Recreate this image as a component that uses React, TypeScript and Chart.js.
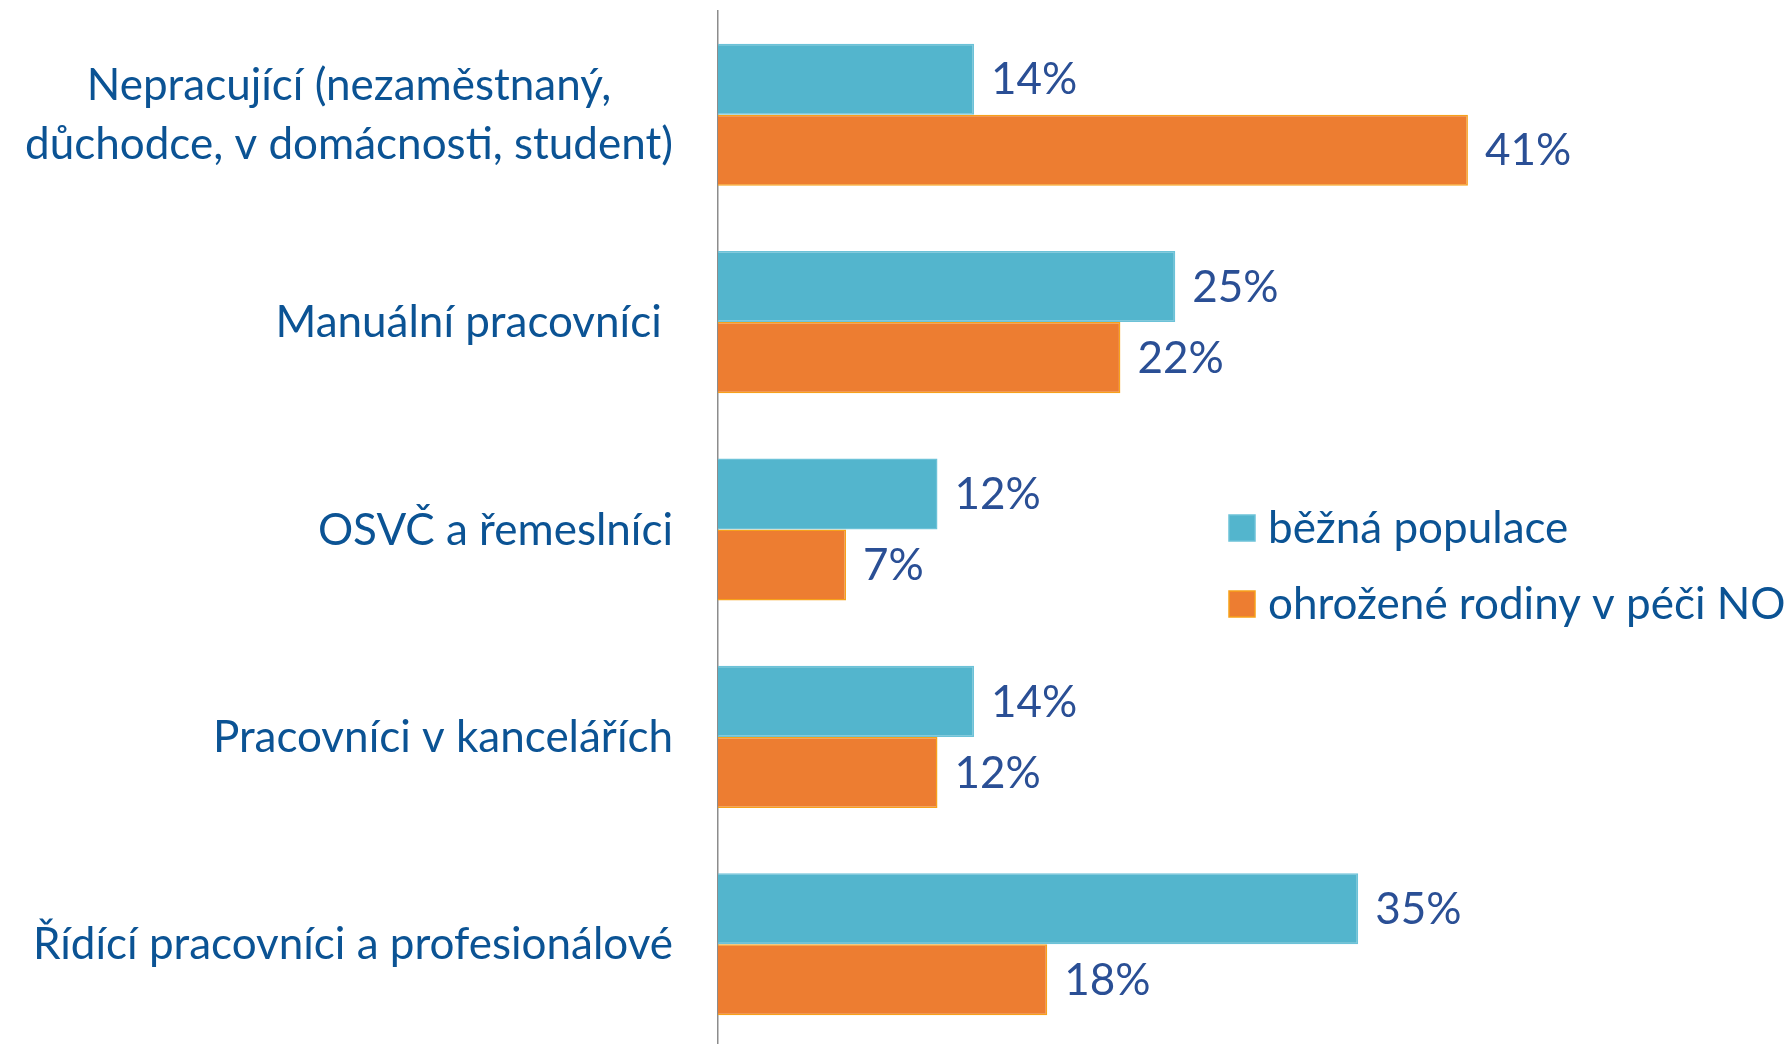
import React, { useEffect, useRef } from "react";
import { Chart, registerables } from "chart.js";

Chart.register(...registerables);

const categories: (string | string[])[] = [
  ["Nepracující (nezaměstnaný,", "důchodce, v domácnosti, student)"],
  "Manuální pracovníci ",
  "OSVČ a řemeslníci",
  "Pracovníci v kancelářích",
  "Řídící pracovníci a profesionálové",
];
const seriesNames = ["běžná populace", "ohrožené rodiny v péči NO"];
const generalPopulation = [14, 25, 12, 14, 35];
const familiesAtRisk = [41, 22, 7, 12, 18];

const FONT = "Lato, 'Open Sans', sans-serif";
const BLUE = "#53B5CD";
const BLUE_BORDER = "#6CC2D8";
const ORANGE = "#ED7D31";
const ORANGE_BORDER = "#F7A11A";
const LABEL_COLOR = "#0B5394";
const VALUE_COLOR = "#2A4F95";
const FONT_SIZE = 44;
const LINE_H = 59;
const LABEL_GAP = 45;

// Category labels: right-aligned block, multi-line blocks centred line by line
const categoryLabels = {
  id: "categoryLabels",
  afterDraw(chart: any) {
    const ctx = chart.ctx;
    const scale = chart.scales.y;
    ctx.save();
    ctx.font = `${FONT_SIZE}px ${FONT}`;
    ctx.fillStyle = LABEL_COLOR;
    ctx.textBaseline = "middle";
    ctx.textAlign = "center";
    const right = scale.right - LABEL_GAP;
    (chart.data.labels as any[]).forEach((lab: any, i: number) => {
      const lines: string[] = Array.isArray(lab) ? lab : [lab];
      const maxW = Math.max(...lines.map((l) => ctx.measureText(l).width));
      const cx = right - maxW / 2;
      const cy = scale.getPixelForTick(i);
      const y0 = cy - ((lines.length - 1) * LINE_H) / 2;
      lines.forEach((l, k) => ctx.fillText(l, cx, y0 + k * LINE_H + 1));
    });
    ctx.restore();
  },
};

const valueLabels = {
  id: "valueLabels",
  afterDatasetsDraw(chart: any) {
    const ctx = chart.ctx;
    ctx.save();
    ctx.font = `${FONT_SIZE}px ${FONT}`;
    ctx.fillStyle = VALUE_COLOR;
    ctx.textAlign = "left";
    ctx.textBaseline = "middle";
    chart.data.datasets.forEach((ds: any, i: number) => {
      const meta = chart.getDatasetMeta(i);
      meta.data.forEach((bar: any, j: number) => {
        ctx.fillText(`${ds.data[j]}%`, bar.x + 17, bar.y + 1);
      });
    });
    ctx.restore();
  },
};

const customLegend = {
  id: "customLegend",
  afterDraw(chart: any) {
    const ctx = chart.ctx;
    ctx.save();
    ctx.font = `${FONT_SIZE}px ${FONT}`;
    ctx.textAlign = "left";
    ctx.textBaseline = "middle";
    const items = [
      { y: 528, fill: BLUE, stroke: BLUE_BORDER },
      { y: 604, fill: ORANGE, stroke: ORANGE_BORDER },
    ];
    items.forEach((it, i) => {
      ctx.fillStyle = it.fill;
      ctx.fillRect(1229, it.y - 13, 26, 26);
      ctx.strokeStyle = it.stroke;
      ctx.lineWidth = 1.5;
      ctx.strokeRect(1229, it.y - 13, 26, 26);
      ctx.fillStyle = LABEL_COLOR;
      ctx.fillText(seriesNames[i], 1268, it.y + 1);
    });
    ctx.restore();
  },
};

export default function App() {
  const ref = useRef<HTMLCanvasElement | null>(null);
  useEffect(() => {
    if (!ref.current) return;
    const chart = new Chart(ref.current, {
      type: "bar",
      data: {
        labels: categories,
        datasets: [
          {
            label: seriesNames[0],
            data: generalPopulation,
            backgroundColor: BLUE,
            borderColor: BLUE_BORDER,
            borderWidth: 1.5,
            borderSkipped: "start",
            barPercentage: 1,
            categoryPercentage: 0.685,
          },
          {
            label: seriesNames[1],
            data: familiesAtRisk,
            backgroundColor: ORANGE,
            borderColor: ORANGE_BORDER,
            borderWidth: 1.5,
            borderSkipped: "start",
            barPercentage: 1,
            categoryPercentage: 0.685,
          },
        ],
      },
      options: {
        indexAxis: "y",
        responsive: false,
        animation: false,
        devicePixelRatio: 1,
        layout: { padding: { top: 11, bottom: 0, left: 0, right: 0 } },
        plugins: {
          legend: { display: false },
          tooltip: { enabled: false },
        },
        scales: {
          x: { display: false, min: 0, max: 58.5 },
          y: {
            afterFit(scale: any) {
              scale.width = 718;
              scale.paddingTop = 0;
              scale.paddingBottom = 0;
            },
            grid: { display: false, drawTicks: false },
            border: { display: true, color: "#8C8C8C", width: 1.5 },
            ticks: { display: false },
          },
        },
      },
      plugins: [valueLabels, categoryLabels, customLegend],
    } as any);
    return () => chart.destroy();
  }, []);
  return (
    <div style={{ position: "fixed", left: 0, top: 0, width: 1788, height: 1044, overflow: "hidden", background: "#fff" }}>
      <canvas ref={ref} width={1788} height={1048} style={{ width: 1788, height: 1048, display: "block" }} />
    </div>
  );
}
